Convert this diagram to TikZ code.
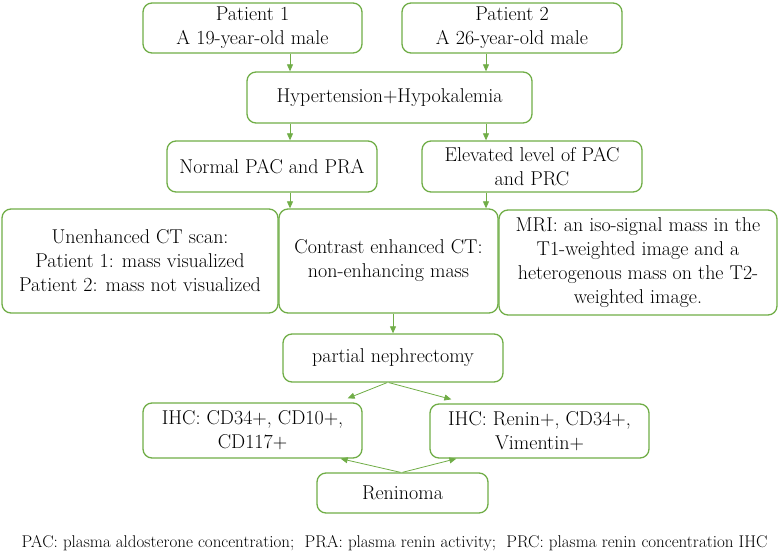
\documentclass[tikz,border=0pt]{standalone}
\usetikzlibrary{arrows.meta}
\definecolor{boxgreen}{RGB}{112,173,71}
\begin{document}
\begin{tikzpicture}[x=1pt,y=1pt,
    box/.style={draw=boxgreen, line width=1.3pt, rounded corners=9pt, align=center, inner sep=2pt, font=\fontsize{20}{24}\selectfont},
    arr/.style={draw=boxgreen, line width=0.8pt, -{Triangle[length=7pt,width=6pt]}}]
    \useasboundingbox (0,0) rectangle (780,-553);
    \coordinate (lx) at (290,0);
    \coordinate (rx) at (486,0);
    \node[box, minimum width=219pt, minimum height=50pt] (p1) at (252.5,-28) {Patient 1\\A 19-year-old male};
    \node[box, minimum width=220pt, minimum height=50pt] (p2) at (512,-28) {Patient 2\\A 26-year-old male};
    \node[box, minimum width=285pt, minimum height=51pt] (hyp) at (389.5,-97.5) {Hypertension+Hypokalemia};
    \node[box, minimum width=210pt, minimum height=51pt] (norm) at (272,-166.5) {Normal PAC and PRA};
    \node[box, minimum width=220pt, minimum height=51pt] (elev) at (532,-166.5) {Elevated level of PAC\\and PRC};
    \node[box, minimum width=276pt, minimum height=104pt] (unen) at (140,-261) {Unenhanced CT scan:\\Patient 1: mass visualized\\Patient 2: mass not visualized};
    \node[box, minimum width=219pt, minimum height=104pt] (cont) at (388.5,-261) {Contrast enhanced CT:\\non-enhancing mass};
    \node[box, minimum width=278pt, minimum height=105pt] (mri) at (638,-262.5) {MRI: an iso-signal mass in the\\T1-weighted image and a\\heterogenous mass on the T2-\\weighted image.};
    \node[box, minimum width=220pt, minimum height=48pt] (neph) at (393,-358) {partial nephrectomy};
    \node[box, minimum width=219pt, minimum height=55pt] (ihca) at (252.5,-430.5) {IHC: CD34+, CD10+,\\CD117+};
    \node[box, minimum width=219pt, minimum height=54pt] (ihcb) at (539.5,-431) {IHC: Renin+, CD34+,\\Vimentin+};
    \node[box, minimum width=171pt, minimum height=40pt] (ren) at (402.5,-493) {Reninoma};
    \node[font=\fontsize{17}{20}\selectfont] (note) at (394.5,-543) {PAC: plasma aldosterone concentration;\ \ PRA: plasma renin activity;\ \ PRC: plasma renin concentration IHC};
    \draw[arr] (p1.south -| lx) -- (hyp.north -| lx);
    \draw[arr] (p2.south -| rx) -- (hyp.north -| rx);
    \draw[arr] (hyp.south -| lx) -- (norm.north -| lx);
    \draw[arr] (hyp.south -| rx) -- (elev.north -| rx);
    \draw[arr] (norm.south -| lx) -- (cont.north -| lx);
    \draw[arr] (elev.south -| rx) -- (cont.north -| rx);
    \draw[arr] (cont.south -| neph.north) -- (neph.north);
    \draw[arr] ([xshift=-6pt]neph.south) -- ([xshift=-15pt,yshift=4pt]ihca.north east);
    \draw[arr] ([xshift=-4pt]neph.south) -- ([xshift=22pt,yshift=4pt]ihcb.north west);
    \draw[arr] ([xshift=-2pt]ren.north) -- ([xshift=-22pt]ihca.south east);
    \draw[arr] (ren.north) -- ([xshift=27pt]ihcb.south west);
\end{tikzpicture}
\end{document}
